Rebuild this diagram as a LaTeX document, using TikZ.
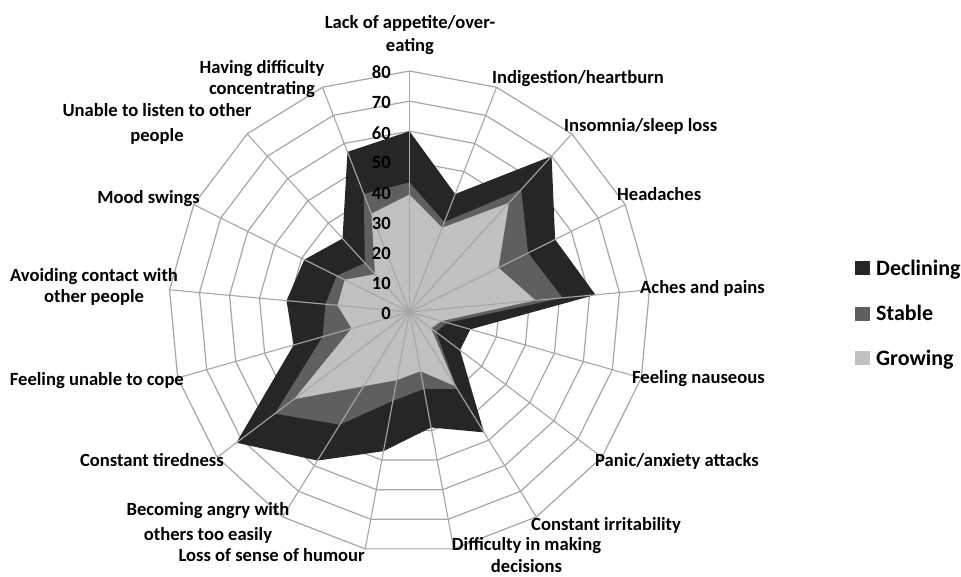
\documentclass[tikz,border=0pt]{standalone}
\usepackage{fontspec}
\setmainfont{Carlito}
\definecolor{cdecl}{HTML}{262626}
\definecolor{cstab}{HTML}{5F5F5F}
\definecolor{cgrow}{HTML}{C0C0C0}
\definecolor{gridc}{HTML}{A6A6A6}
\begin{document}
\begin{tikzpicture}[x=1pt,y=-1pt,
  lab/.style={font=\fontsize{18.6}{22}\selectfont\bfseries, inner sep=0pt},
  num/.style={font=\fontsize{18.6}{22}\selectfont\bfseries, inner sep=0pt, anchor=east},
  leg/.style={font=\fontsize{22}{26}\selectfont\bfseries, inner sep=0pt, anchor=base west},
  ring/.style={draw=gridc, line width=1.2pt, line join=round},
  spoke/.style={draw=gridc, line width=1.1pt}]
\useasboundingbox (0,0) rectangle (961,576);
\fill[white] (0,0) rectangle (961,576);
\def\u{3.0125}
\begin{scope}[shift={(409.5,312)}]
  % rings
  \foreach \r in {1,...,8} {
    \draw[ring] (-90:{\r*10*\u}) \foreach \i in {1,...,16} { -- ({\i*360/17-90}:{\r*10*\u}) } -- cycle;
  }
  % series
  \fill[cdecl] (-90:{60*\u}) \foreach \v [count=\i] in {42,70,54,62,21,21,47,39,47,58,72,40,41,39,33,57} { -- ({\i*360/17-90}:{\v*\u}) } -- cycle;
  \fill[cstab] (-90:{43*\u}) \foreach \v [count=\i] in {32,55,44,51,13,11,30,26,30,44,56,30,28,27,22,42} { -- ({\i*360/17-90}:{\v*\u}) } -- cycle;
  \fill[cgrow] (-90:{39*\u}) \foreach \v [count=\i] in {30,49,33,42,11,9,29,20,23,29,48,20,24,24,17,35} { -- ({\i*360/17-90}:{\v*\u}) } -- cycle;
  % spokes
  \coordinate (c) at (0,0);
  \foreach \i in {0,...,16} {
    \coordinate (s\i) at ({\i*360/17-90}:{80*\u});
    \draw[spoke] (c) -- (s\i);
  }
\end{scope}
% axis numbers
\foreach \k in {0,1,...,8} {
  \node[num] (n\k) at (391,{312-\k*10*\u+1.5}) {\pgfmathtruncatemacro\kk{\k*10}\kk};
}
% category labels
\node[lab, anchor=mid] (l0a) at (410,26) {Lack of appetite/over-};
\node[lab, anchor=mid] (l0b) at (410,49) {eating};
\node[lab, anchor=mid west] (l1) at (492,81) {Indigestion/heartburn};
\node[lab, anchor=mid west] (l2) at (564,129.5) {Insomnia/sleep loss};
\node[lab, anchor=mid west] (l3) at (617,198) {Headaches};
\node[lab, anchor=mid west] (l4) at (640,291) {Aches and pains};
\node[lab, anchor=mid west] (l5) at (632,381.5) {Feeling nauseous};
\node[lab, anchor=mid west] (l6) at (595,464.5) {Panic/anxiety attacks};
\node[lab, anchor=mid west] (l7) at (531,528) {Constant irritability};
\node[lab, anchor=mid] (l8a) at (526.5,548) {Difficulty in making};
\node[lab, anchor=mid] (l8b) at (526.5,570) {decisions};
\node[lab, anchor=mid east] (l9) at (365,559.5) {Loss of sense of humour};
\node[lab, anchor=mid] (l10a) at (208,513) {Becoming angry with};
\node[lab, anchor=mid] (l10b) at (208,538) {others too easily};
\node[lab, anchor=mid east] (l11) at (224,464.5) {Constant tiredness};
\node[lab, anchor=mid east] (l12) at (184,383) {Feeling unable to cope};
\node[lab, anchor=mid] (l13a) at (94,279) {Avoiding contact with};
\node[lab, anchor=mid] (l13b) at (94,300) {other people};
\node[lab, anchor=mid east] (l14) at (200,201) {Mood swings};
\node[lab, anchor=mid] (l15a) at (157,114.5) {Unable to listen to other};
\node[lab, anchor=mid] (l15b) at (157,139.5) {people};
\node[lab, anchor=mid] (l16a) at (262,71) {Having difficulty};
\node[lab, anchor=mid] (l16b) at (262,92.5) {concentrating};
% legend
\fill[cdecl] (855,261) rectangle (870,275);
\node[leg] (g1) at (876,275) {Declining};
\fill[cstab] (855,306.7) rectangle (870,320.7);
\node[leg] (g2) at (876,320.7) {Stable};
\fill[cgrow] (855,351) rectangle (870,365);
\node[leg] (g3) at (876,365) {Growing};
\end{tikzpicture}
\end{document}
